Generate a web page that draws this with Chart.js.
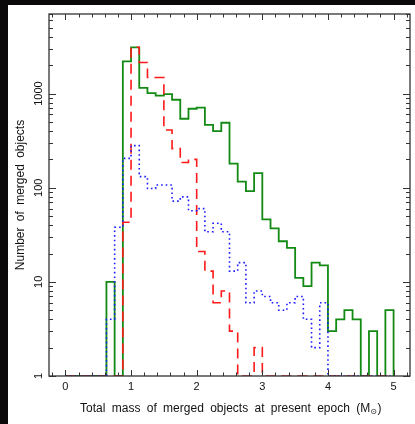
<!DOCTYPE html>
<html lang="en">
<head>
<meta charset="UTF-8">
<title>Merged objects</title>
<script src="https://cdn.jsdelivr.net/npm/chart.js@4"></script>
<style>
  html, body { margin: 0; padding: 0; background: #0c090b; }
  #panel { position: absolute; left: 8px; top: 5px; width: 407px; height: 419px; background: #fff; }
</style>
</head>
<body>
<div id="panel"><canvas id="massChart"></canvas></div>
<script>
// bin edges (M_sun), 0.125 wide, last entry closes the final bin
const massBins = [0, 0.125, 0.25, 0.375, 0.5, 0.625, 0.75, 0.875, 1.0, 1.125,
  1.25, 1.375, 1.5, 1.625, 1.75, 1.875, 2.0, 2.125, 2.25, 2.375,
  2.5, 2.625, 2.75, 2.875, 3.0, 3.125, 3.25, 3.375, 3.5, 3.625,
  3.75, 3.875, 4.0, 4.125, 4.25, 4.375, 4.5, 4.625, 4.75, 4.875, 5.0];

// counts per bin (solid green)
const solidCounts = [0, 0, 0, 0, 0, 10, 0, 2200, 3100, 1150,
  1010, 950, 985, 860, 540, 690, 710, 465, 400, 490,
  180, 116, 92, 143, 46, 37, 27, 23, 11, 9,
  16, 15, 3, 4, 5, 4, 0, 3, 0, 5];

// counts per bin (dashed red)
const dashedCounts = [0, 0, 0, 0, 0, 0, 0, 43, 3100, 2140,
  1480, 1480, 410, 260, 185, 200, 21, 13, 6, 8,
  3, 0, 0, 2, 0, 0, 0, 0, 0, 0,
  0, 0, 0, 0, 0, 0, 0, 0, 0, 0];

// counts per bin (dotted blue)
const dottedCounts = [0, 0, 0, 0, 0, 4, 38, 205, 280, 131,
  98, 107, 107, 72, 80, 57, 60, 34, 42, 34,
  13, 16, 6, 8, 7, 6, 5, 6, 7, 4,
  2, 6, 0, 0, 0, 0, 0, 0, 0, 0];

const xTicks = [0, 1, 2, 3, 4, 5];
const yTicks = [1, 10, 100, 1000];
const yLabels = ['1', '10', '100', '1000'];

const FONT = '"Liberation Sans", Arial, sans-serif';
const YMIN = 1;

// empty bins sit on the bottom of the log axis
function histPoints(counts) {
  return massBins.map((x, i) => ({ x: x, y: Math.max(counts[i] || 0, YMIN) }));
}

const frameTicks = {
  id: 'frameTicks',
  afterDraw(chart) {
    const ctx = chart.ctx;
    const a = chart.chartArea;
    const xs = chart.scales.x, ys = chart.scales.y;
    ctx.save();
    ctx.strokeStyle = '#333';
    ctx.lineWidth = 1.3;
    ctx.strokeRect(a.left, a.top, a.right - a.left, a.bottom - a.top);

    ctx.lineWidth = 1;
    ctx.beginPath();
    // x ticks, major every 1, minor every 0.2
    for (let k = -1; k <= 26; k++) {
      const v = k * 0.2;
      if (v < xs.min || v > xs.max) continue;
      const px = Math.round(xs.getPixelForValue(v)) + 0.5;
      const len = (k % 5 === 0) ? 6 : 3.5;
      ctx.moveTo(px, a.bottom); ctx.lineTo(px, a.bottom - len);
      ctx.moveTo(px, a.top); ctx.lineTo(px, a.top + len);
    }
    // y ticks, decades plus 2..9
    for (let d = 1; d <= 1000; d *= 10) {
      for (let m = 1; m <= 9; m++) {
        const v = d * m;
        if (v > ys.max) break;
        const py = Math.round(ys.getPixelForValue(v)) + 0.5;
        const len = (m === 1) ? 7 : 4;
        ctx.moveTo(a.left, py); ctx.lineTo(a.left + len, py);
        ctx.moveTo(a.right, py); ctx.lineTo(a.right - len, py);
      }
    }
    ctx.stroke();

    ctx.fillStyle = '#111';
    // y tick labels, rotated like the original
    ctx.font = '11px ' + FONT;
    ctx.textAlign = 'center';
    ctx.textBaseline = 'middle';
    yTicks.forEach((v, i) => {
      ctx.save();
      ctx.translate(a.left - 10, ys.getPixelForValue(v));
      ctx.rotate(-Math.PI / 2);
      ctx.fillText(yLabels[i], 0, 0);
      ctx.restore();
    });

    // axis titles, spaced out a little like the original
    ctx.font = '12px ' + FONT;
    ctx.wordSpacing = '3px';
    ctx.save();
    ctx.translate(13, (a.top + a.bottom) / 2);
    ctx.rotate(-Math.PI / 2);
    ctx.fillText('Number of merged objects', 0, 0);
    ctx.restore();

    const main = 'Total mass of merged objects at present epoch (M';
    const wMain = ctx.measureText(main).width;
    ctx.font = '8px "DejaVu Sans", sans-serif';
    const wSun = ctx.measureText('\u2299').width;
    ctx.font = '12px ' + FONT;
    const wEnd = ctx.measureText(')').width;
    let x0 = (a.left + a.right) / 2 + 1 - (wMain + wSun + wEnd) / 2;
    const yT = a.bottom + 33;
    ctx.textAlign = 'left';
    ctx.fillText(main, x0, yT);
    ctx.font = '8px "DejaVu Sans", sans-serif';
    ctx.fillText('\u2299', x0 + wMain, yT + 3);
    ctx.font = '12px ' + FONT;
    ctx.fillText(')', x0 + wMain + wSun + 0.5, yT);
    ctx.restore();
  }
};

new Chart(document.getElementById('massChart'), {
  type: 'line',
  data: {
    datasets: [
      {
        label: 'dotted',
        data: histPoints(dottedCounts),
        borderColor: '#1a1aff',
        borderWidth: 1.6,
        borderDash: [1.6, 3],
        stepped: 'before',
        pointRadius: 0,
        order: 0
      },
      {
        label: 'dashed',
        data: histPoints(dashedCounts),
        borderColor: '#ff1a1a',
        borderWidth: 1.6,
        borderDash: [10, 6],
        stepped: 'before',
        pointRadius: 0,
        order: 1
      },
      {
        label: 'solid',
        data: histPoints(solidCounts),
        borderColor: '#138a13',
        borderWidth: 1.8,
        stepped: 'before',
        pointRadius: 0,
        order: 2
      }
    ]
  },
  options: {
    responsive: true,
    maintainAspectRatio: false,
    animation: false,
    events: [],
    layout: { padding: { left: 0, right: 5, top: 9, bottom: 0 } },
    plugins: { legend: { display: false }, tooltip: { enabled: false } },
    scales: {
      x: {
        type: 'linear',
        min: -0.25,
        max: 5.25,
        afterBuildTicks: s => { s.ticks = xTicks.map(v => ({ value: v })); },
        afterFit: s => { s.height = 48; },
        grid: { display: false, drawTicks: false },
        border: { display: false },
        ticks: { color: '#111', font: { family: FONT, size: 11 }, padding: 4, maxRotation: 0 }
      },
      y: {
        type: 'logarithmic',
        min: YMIN,
        max: 7000,
        afterBuildTicks: s => { s.ticks = yTicks.map(v => ({ value: v })); },
        afterFit: s => { s.width = 41; },
        grid: { display: false, drawTicks: false },
        border: { display: false },
        ticks: { display: false }
      }
    }
  },
  plugins: [frameTicks]
});
</script>
</body>
</html>
